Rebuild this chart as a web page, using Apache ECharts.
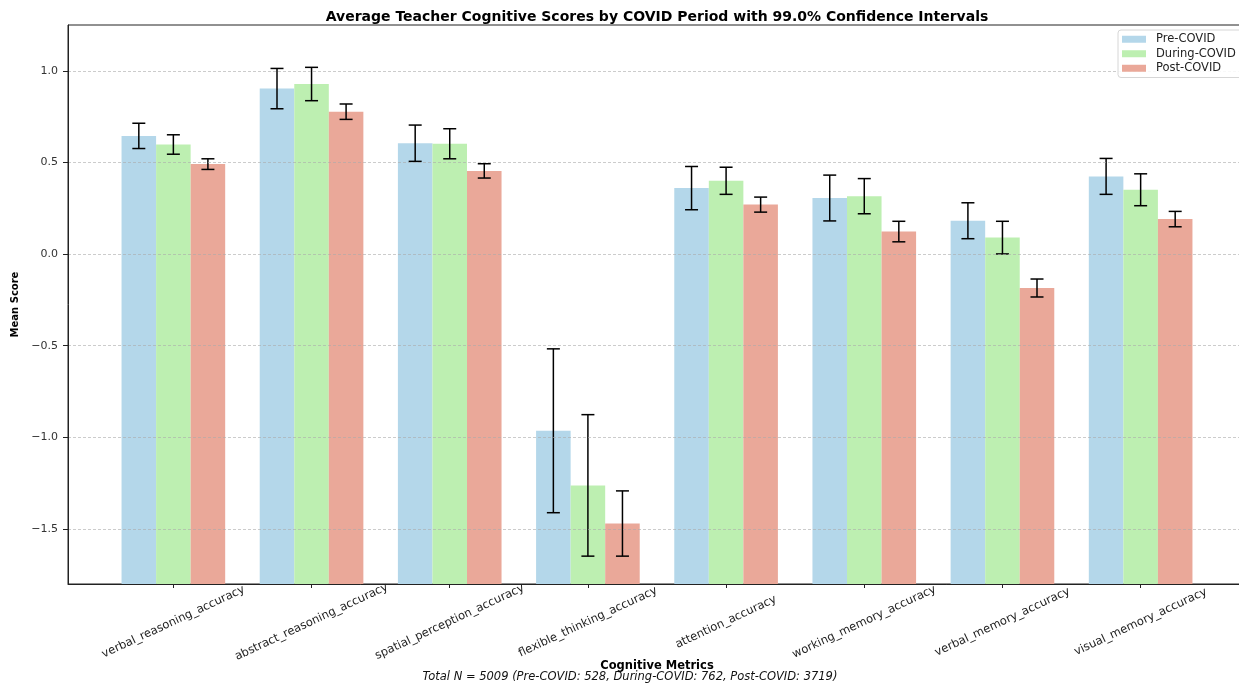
<!DOCTYPE html>
<html>
<head>
<meta charset="utf-8">
<script src="https://cdn.jsdelivr.net/npm/echarts@6/dist/echarts.min.js"></script>
<style>
  html, body { margin: 0; padding: 0; background: #ffffff; }
  #chart { width: 1239px; height: 684px; }
</style>
</head>
<body>
<div id="chart"></div>
<script>
// Cognitive metrics on the x axis
const metrics = [
  'verbal_reasoning_accuracy', 'abstract_reasoning_accuracy', 'spatial_perception_accuracy',
  'flexible_thinking_accuracy', 'attention_accuracy', 'working_memory_accuracy',
  'verbal_memory_accuracy', 'visual_memory_accuracy'
];
const periods = ['Pre-COVID', 'During-COVID', 'Post-COVID'];

// Mean scores per period
const preMean    = [0.645, 0.903, 0.605, -0.964, 0.360, 0.306, 0.182, 0.424];
const duringMean = [0.598, 0.928, 0.602, -1.262, 0.400, 0.316, 0.090, 0.351];
const postMean   = [0.491, 0.777, 0.454, -1.470, 0.270, 0.123, -0.185, 0.191];

// 99% confidence interval half-widths
const preErr    = [0.069, 0.110, 0.099, 0.447, 0.118, 0.125, 0.098, 0.098];
const duringErr = [0.053, 0.091, 0.082, 0.386, 0.074, 0.096, 0.089, 0.087];
const postErr   = [0.029, 0.042, 0.039, 0.178, 0.041, 0.056, 0.049, 0.042];

// Axis ticks and limits
const yTicks = [-1.5, -1.0, -0.5, 0.0, 0.5, 1.0];
const xTicks = [0, 1, 2, 3, 4, 5, 6, 7];
const Y_MIN = -1.8, Y_MAX = 1.25;

const colors = ['#b4d7ea', '#bdefb1', '#eaa899'];
const BAR_W = 0.25;
const CAP = 6.5;

function seriesData(means, errs) {
  return means.map((m, i) => [i, m, errs[i]]);
}

// Bars rise from the bottom of the plot to the mean; error bar spans mean ± half-width
function barWithError(offset, color) {
  return function (params, api) {
    const i = api.value(0), m = api.value(1), e = api.value(2);
    const tl = api.coord([i + offset - BAR_W / 2, m]);
    const br = api.coord([i + offset + BAR_W / 2, Y_MIN]);
    const cx = api.coord([i + offset, m])[0];
    const yHi = api.coord([i + offset, m + e])[1];
    const yLo = api.coord([i + offset, m - e])[1];
    const errStyle = { stroke: '#000', lineWidth: 1.5 };
    return {
      type: 'group',
      children: [
        { type: 'rect', shape: { x: tl[0], y: tl[1], width: br[0] - tl[0], height: br[1] - tl[1] },
          style: { fill: color } },
        { type: 'line', z2: 10, shape: { x1: cx, y1: yHi, x2: cx, y2: yLo }, style: errStyle },
        { type: 'line', z2: 10, shape: { x1: cx - CAP, y1: yHi, x2: cx + CAP, y2: yHi }, style: errStyle },
        { type: 'line', z2: 10, shape: { x1: cx - CAP, y1: yLo, x2: cx + CAP, y2: yLo }, style: errStyle }
      ]
    };
  };
}

const fmtY = v => (v < 0 ? '\u2212' : '') + Math.abs(v).toFixed(1);

const chart = echarts.init(document.getElementById('chart'));
chart.setOption({
  animation: false,
  backgroundColor: '#ffffff',
  textStyle: { fontFamily: 'DejaVu Sans' },
  title: {
    text: 'Average Teacher Cognitive Scores by COVID Period with 99.0% Confidence Intervals',
    left: 652, top: 5, textAlign: 'center',
    textStyle: { fontFamily: 'DejaVu Sans', fontWeight: 'bold', fontSize: 14, color: '#000' }
  },
  legend: {
    data: periods,
    orient: 'vertical',
    left: 1118, top: 30,
    icon: 'rect',
    itemWidth: 24, itemHeight: 7, itemGap: 2,
    padding: [3, 8, 3, 4],
    borderColor: '#d6d6d6', borderWidth: 1, borderRadius: 3,
    backgroundColor: 'rgba(255,255,255,0.85)',
    textStyle: { fontSize: 11.5, color: '#222', lineHeight: 12.5, padding: [0, 0, 0, 5] },
    z: 10
  },
  grid: {
    left: 68, top: 25, width: 1178, height: 559,
    outerBoundsMode: 'none',
    show: true, borderColor: '#222', borderWidth: 1, backgroundColor: 'transparent'
  },
  xAxis: {
    type: 'value',
    min: -0.7625, max: 7.7625,
    name: 'Cognitive Metrics',
    nameLocation: 'middle', nameGap: 76, nameMoveOverlap: false,
    nameTextStyle: { fontWeight: 'bold', fontSize: 11.5, color: '#000' },
    axisLine: { show: true, onZero: false, lineStyle: { color: '#222', width: 1 } },
    axisTick: { show: true, length: 4, customValues: xTicks, lineStyle: { color: '#222' } },
    axisLabel: {
      customValues: xTicks,
      formatter: v => metrics[Math.round(v)],
      rotate: 25, align: 'center', verticalAlign: 'middle',
      margin: 38, fontSize: 11.5, color: '#222'
    },
    splitLine: { show: false }
  },
  yAxis: {
    type: 'value',
    min: Y_MIN, max: Y_MAX,
    z: 3,
    name: 'Mean Score',
    nameLocation: 'middle', nameGap: 48, nameMoveOverlap: false,
    nameTextStyle: { fontWeight: 'bold', fontSize: 10, color: '#000' },
    axisLine: { show: true, onZero: false, lineStyle: { color: '#222', width: 1 } },
    axisTick: { show: true, length: 5, customValues: yTicks, lineStyle: { color: '#222' } },
    axisLabel: { customValues: yTicks, formatter: fmtY, fontSize: 11, color: '#333', margin: 10 },
    splitLine: { show: true, lineStyle: { color: 'rgba(170,170,170,0.6)', type: [3, 2], width: 1 } }
  },
  graphic: [{
    type: 'text', x: 630, y: 677,
    style: {
      text: 'Total N = 5009 (Pre-COVID: 528, During-COVID: 762, Post-COVID: 3719)',
      font: 'italic 11.5px "DejaVu Sans"', fill: '#111',
      textAlign: 'center', textVerticalAlign: 'middle'
    }
  }],
  series: [
    { name: periods[0], type: 'custom', itemStyle: { color: colors[0] },
      renderItem: barWithError(-BAR_W, colors[0]), data: seriesData(preMean, preErr) },
    { name: periods[1], type: 'custom', itemStyle: { color: colors[1] },
      renderItem: barWithError(0, colors[1]), data: seriesData(duringMean, duringErr) },
    { name: periods[2], type: 'custom', itemStyle: { color: colors[2] },
      renderItem: barWithError(BAR_W, colors[2]), data: seriesData(postMean, postErr) }
  ]
});
</script>
</body>
</html>
